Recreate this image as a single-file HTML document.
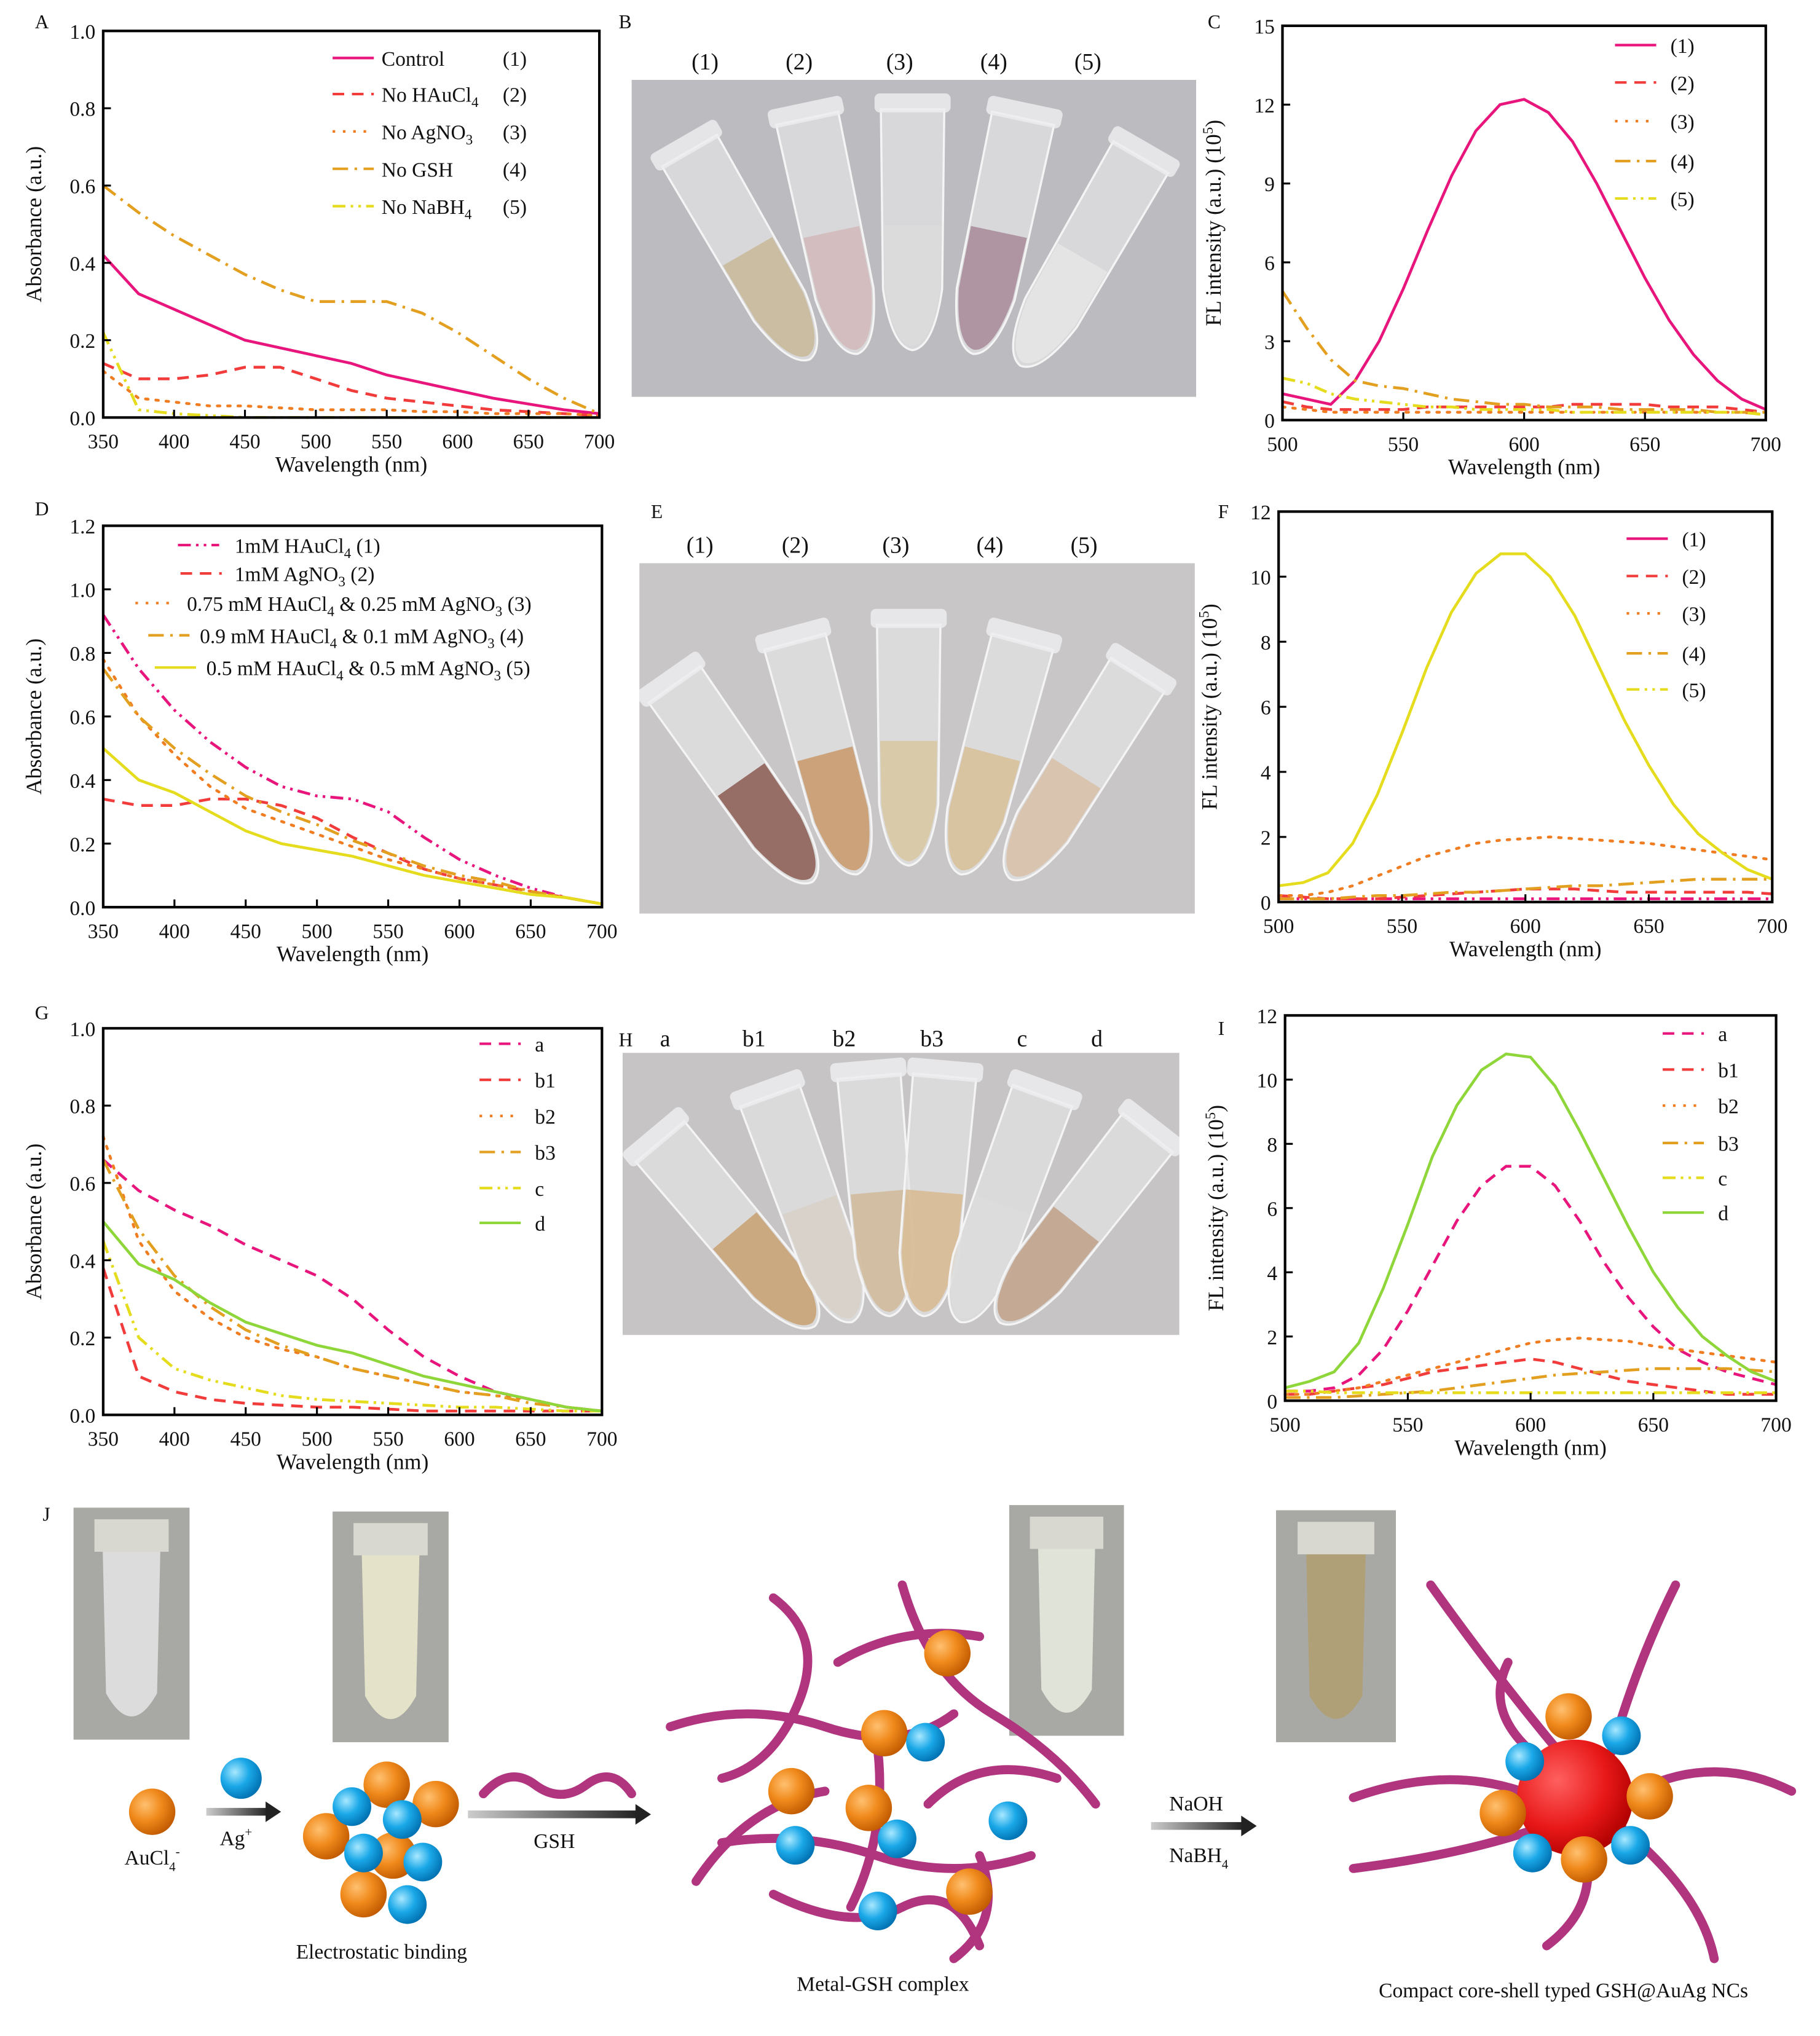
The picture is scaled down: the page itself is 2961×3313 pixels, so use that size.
<!DOCTYPE html>
<html><head><meta charset="utf-8">
<style>
html,body{margin:0;padding:0;background:#fff;}
svg{display:block;}
text{font-family:"Liberation Serif","DejaVu Serif",serif;fill:#111;}
</style></head>
<body>
<svg id="fig" xmlns="http://www.w3.org/2000/svg" width="2961" height="3313" viewBox="0 0 1412 1580">
<defs>
<radialGradient id="og" cx="0.35" cy="0.35" r="0.7"><stop offset="0" stop-color="#ffc070"/><stop offset="0.5" stop-color="#f08a1c"/><stop offset="1" stop-color="#c05a00"/></radialGradient>
<radialGradient id="bg" cx="0.35" cy="0.35" r="0.7"><stop offset="0" stop-color="#a8e8ff"/><stop offset="0.5" stop-color="#1aa8e8"/><stop offset="1" stop-color="#0070b0"/></radialGradient>
<radialGradient id="rg" cx="0.35" cy="0.35" r="0.7"><stop offset="0" stop-color="#ff6060"/><stop offset="0.6" stop-color="#e81818"/><stop offset="1" stop-color="#b00000"/></radialGradient>
<linearGradient id="arr" x1="0" x2="1"><stop offset="0" stop-color="#ccc"/><stop offset="1" stop-color="#222"/></linearGradient>
</defs>
</svg>
<script>
// ---------- data ----------
var wlAbs = [350,375,400,425,450,475,500,525,550,575,600,625,650,675,700];
var wlFL = [500,510,520,530,540,550,560,570,580,590,600,610,620,630,640,650,660,670,680,690,700];
var aControl = [0.42,0.32,0.28,0.24,0.20,0.18,0.16,0.14,0.11,0.09,0.07,0.05,0.035,0.02,0.01];
var aNoHAu = [0.14,0.10,0.10,0.11,0.13,0.13,0.10,0.07,0.05,0.04,0.03,0.02,0.015,0.01,0.005];
var aNoAg = [0.12,0.05,0.04,0.03,0.03,0.025,0.02,0.02,0.02,0.015,0.015,0.01,0.01,0.01,0.005];
var aNoGSH = [0.60,0.53,0.47,0.42,0.37,0.33,0.30,0.30,0.30,0.27,0.22,0.16,0.10,0.05,0.01];
var aNoNaBH = [0.22,0.02,0.01,0.005,0,0,0,0,0,0,0,0,0,0,0];
var c1 = [1.0,0.8,0.6,1.5,3.0,5.0,7.2,9.3,11.0,12.0,12.2,11.7,10.6,9.0,7.2,5.4,3.8,2.5,1.5,0.8,0.4];
var c2 = [0.7,0.5,0.4,0.4,0.4,0.4,0.5,0.5,0.5,0.5,0.5,0.5,0.6,0.6,0.6,0.6,0.5,0.5,0.5,0.4,0.3];
var c3 = [0.5,0.4,0.3,0.3,0.3,0.3,0.3,0.3,0.3,0.3,0.3,0.3,0.3,0.3,0.3,0.3,0.3,0.3,0.3,0.3,0.2];
var c4 = [4.9,3.5,2.3,1.5,1.3,1.2,1.0,0.8,0.7,0.6,0.6,0.5,0.5,0.5,0.4,0.4,0.4,0.4,0.3,0.3,0.3];
var c5 = [1.6,1.4,1.0,0.8,0.7,0.6,0.5,0.5,0.4,0.4,0.4,0.4,0.3,0.3,0.3,0.3,0.3,0.3,0.3,0.3,0.2];
var d1 = [0.92,0.75,0.62,0.52,0.44,0.38,0.35,0.34,0.30,0.22,0.15,0.10,0.06,0.03,0.01];
var d2 = [0.34,0.32,0.32,0.34,0.34,0.32,0.28,0.22,0.17,0.12,0.09,0.07,0.05,0.03,0.01];
var d3 = [0.78,0.60,0.48,0.38,0.31,0.27,0.23,0.19,0.15,0.12,0.09,0.07,0.05,0.03,0.01];
var d4 = [0.75,0.60,0.50,0.42,0.35,0.30,0.26,0.21,0.17,0.13,0.10,0.08,0.05,0.03,0.01];
var d5 = [0.50,0.40,0.36,0.30,0.24,0.20,0.18,0.16,0.13,0.10,0.08,0.06,0.04,0.03,0.01];
var f1 = [0.1,0.1,0.1,0.1,0.1,0.1,0.1,0.1,0.1,0.1,0.1,0.1,0.1,0.1,0.1,0.1,0.1,0.1,0.1,0.1,0.1];
var f2 = [0.2,0.15,0.1,0.1,0.1,0.15,0.2,0.25,0.3,0.35,0.4,0.4,0.4,0.35,0.3,0.3,0.3,0.3,0.3,0.3,0.25];
var f3 = [0.2,0.2,0.3,0.5,0.8,1.1,1.4,1.6,1.8,1.9,1.95,2.0,1.95,1.9,1.85,1.8,1.7,1.6,1.5,1.4,1.3];
var f4 = [0.1,0.1,0.1,0.15,0.2,0.2,0.25,0.3,0.3,0.35,0.4,0.45,0.5,0.5,0.55,0.6,0.65,0.7,0.7,0.7,0.7];
var f5 = [0.5,0.6,0.9,1.8,3.3,5.2,7.2,8.9,10.1,10.7,10.7,10.0,8.8,7.2,5.6,4.2,3.0,2.1,1.5,1.0,0.7];
var gA = [0.66,0.58,0.53,0.49,0.44,0.40,0.36,0.30,0.22,0.15,0.10,0.06,0.04,0.02,0.01];
var gB1 = [0.38,0.10,0.06,0.04,0.03,0.025,0.02,0.02,0.015,0.01,0.01,0.01,0.01,0.01,0.01];
var gB2 = [0.72,0.45,0.32,0.25,0.20,0.17,0.15,0.12,0.10,0.08,0.06,0.05,0.04,0.02,0.01];
var gB3 = [0.66,0.48,0.36,0.28,0.22,0.18,0.15,0.12,0.10,0.08,0.06,0.05,0.03,0.02,0.01];
var gC = [0.45,0.20,0.12,0.09,0.07,0.05,0.04,0.035,0.03,0.025,0.02,0.02,0.015,0.01,0.01];
var gD = [0.50,0.39,0.35,0.29,0.24,0.21,0.18,0.16,0.13,0.10,0.08,0.06,0.04,0.02,0.01];
var iA = [0.3,0.3,0.4,0.8,1.6,2.8,4.2,5.6,6.7,7.3,7.3,6.7,5.6,4.3,3.2,2.3,1.6,1.2,0.9,0.7,0.5];
var iB1 = [0.2,0.2,0.3,0.4,0.5,0.7,0.9,1.0,1.1,1.2,1.3,1.2,1.0,0.8,0.6,0.5,0.4,0.3,0.2,0.2,0.2];
var iB2 = [0.2,0.2,0.3,0.4,0.6,0.8,1.0,1.2,1.4,1.6,1.8,1.9,1.95,1.9,1.85,1.7,1.6,1.5,1.4,1.3,1.2];
var iB3 = [0.1,0.1,0.1,0.15,0.2,0.25,0.3,0.4,0.5,0.6,0.7,0.8,0.85,0.9,0.95,1.0,1.0,1.0,1.0,0.95,0.9];
var iC = [0.3,0.3,0.25,0.25,0.25,0.25,0.25,0.25,0.25,0.25,0.25,0.25,0.25,0.25,0.25,0.25,0.25,0.25,0.25,0.25,0.25];
var iD = [0.4,0.6,0.9,1.8,3.5,5.5,7.6,9.2,10.3,10.8,10.7,9.8,8.4,6.9,5.4,4.0,2.9,2.0,1.4,0.9,0.6];
var absXTicks = [350,400,450,500,550,600,650,700];
var flXTicks = [500,550,600,650,700];
var yTicks1 = [0,0.2,0.4,0.6,0.8,1.0];
var yTicks12 = [0,0.2,0.4,0.6,0.8,1.0,1.2];
var yTicksC = [0,3,6,9,12,15];
var yTicksFI = [0,2,4,6,8,10,12];

var NS="http://www.w3.org/2000/svg";
var svg=document.getElementById('fig');
function mk(tag,attrs,parent){var e=document.createElementNS(NS,tag);for(var k in attrs)e.setAttribute(k,attrs[k]);(parent||svg).appendChild(e);return e;}
function txt(x,y,s,size,parent,anchor,extra){var t=mk('text',{x:x,y:y,'font-size':size||16,'text-anchor':anchor||'start'},parent);t.innerHTML=s;if(extra)for(var k in extra)t.setAttribute(k,extra[k]);return t;}

var COL={mag:'#e8157c',red:'#f23c3c',ora:'#f07d22',dor:'#e3a020',yel:'#e4dc1c',grn:'#8fd63a'};
var STY={solid:'',dash:'9,6',dot:'2,6',dashdot:'12,5,2,5',dashdotdot:'10,4,2,4,2,4'};

function chart(name,box,xd,yd,xt,yt,ydec,series,ytitle){
  var g=mk('g',{});
  
  
  var sx=function(v){return box.x0+(v-xd[0])/(xd[1]-xd[0])*(box.x1-box.x0);};
  var sy=function(v){return box.y1-(v-yd[0])/(yd[1]-yd[0])*(box.y1-box.y0);};
  series.forEach(function(s){
    var pts=s.x.map(function(x,i){return sx(x).toFixed(1)+','+sy(s.y[i]).toFixed(1);}).join(' ');
    var p=mk('polyline',{points:pts,fill:'none',stroke:s.c,'stroke-width':2.2,'stroke-dasharray':STY[s.st],'stroke-linecap':s.st==='dot'?'round':'butt'},g);
    
    
  });
  var fr=mk('rect',{x:box.x0,y:box.y0,width:box.x1-box.x0,height:box.y1-box.y0,fill:'none',stroke:'#000','stroke-width':2},g);
  
  
  xt.forEach(function(v){
    var X=sx(v);
    mk('line',{x1:X,x2:X,y1:box.y1,y2:box.y1-6,stroke:'#000','stroke-width':1.5},g);
    var t=txt(X,box.y1+24,String(v),16,g,'middle');
    
    
  });
  yt.forEach(function(v){
    var Y=sy(v);
    mk('line',{x1:box.x0,x2:box.x0+6,y1:Y,y2:Y,stroke:'#000','stroke-width':1.5},g);
    var t=txt(box.x0-6,Y+6,v.toFixed(ydec),16,g,'end');
    
    
  });
  var xtl=txt((box.x0+box.x1)/2,box.y1+42,'Wavelength (nm)',17,g,'middle');
  
  
  var cy=(box.y0+box.y1)/2, tx=box.x0-48;
  var ytl=txt(tx,cy,ytitle,17,g,'middle',{transform:'rotate(-90 '+tx+' '+cy+')'});
  
  
}
function legend(entries){
  entries.forEach(function(e){
    var l=mk('line',{x1:e.lx,x2:e.lx+32,y1:e.y,y2:e.y,stroke:e.c,'stroke-width':2,'stroke-dasharray':STY[e.st]});
    
    
    var t=txt(e.tx,e.y+6,e.label,16);
    
    
  });
}
var ABS='Absorbance (a.u.)', FL='FL intensity (a.u.) (10<tspan baseline-shift="super" font-size="11">5</tspan>)';

chart('chart-a',{x0:80,x1:465,y0:24,y1:324},[350,700],[0,1],absXTicks,yTicks1,1,[
 {name:'series-control',x:wlAbs,y:aControl,c:COL.mag,st:'solid'},
 {name:'series-no-haucl4',x:wlAbs,y:aNoHAu,c:COL.red,st:'dash'},
 {name:'series-no-agno3',x:wlAbs,y:aNoAg,c:COL.ora,st:'dot'},
 {name:'series-no-gsh',x:wlAbs,y:aNoGSH,c:COL.dor,st:'dashdot'},
 {name:'series-no-nabh4',x:wlAbs,y:aNoNaBH,c:COL.yel,st:'dashdotdot'}],ABS);
legend([
 {lx:258,tx:296,y:45,c:COL.mag,st:'solid',label:'Control<tspan x="390">(1)</tspan>'},
 {lx:258,tx:296,y:73,c:COL.red,st:'dash',label:'No HAuCl<tspan font-size="11" dy="4">4</tspan><tspan x="390" dy="-4">(2)</tspan>'},
 {lx:258,tx:296,y:102,c:COL.ora,st:'dot',label:'No AgNO<tspan font-size="11" dy="4">3</tspan><tspan x="390" dy="-4">(3)</tspan>'},
 {lx:258,tx:296,y:131,c:COL.dor,st:'dashdot',label:'No GSH<tspan x="390">(4)</tspan>'},
 {lx:258,tx:296,y:160,c:COL.yel,st:'dashdotdot',label:'No NaBH<tspan font-size="11" dy="4">4</tspan><tspan x="390" dy="-4">(5)</tspan>'}]);
chart('chart-c',{x0:995,x1:1370,y0:20,y1:326},[500,700],[0,15],flXTicks,yTicksC,0,[
 {name:'series-1',x:wlFL,y:c1,c:COL.mag,st:'solid'},
 {name:'series-2',x:wlFL,y:c2,c:COL.red,st:'dash'},
 {name:'series-3',x:wlFL,y:c3,c:COL.ora,st:'dot'},
 {name:'series-4',x:wlFL,y:c4,c:COL.dor,st:'dashdot'},
 {name:'series-5',x:wlFL,y:c5,c:COL.yel,st:'dashdotdot'}],FL);
legend([{lx:1253,tx:1296,y:35,c:COL.mag,st:'solid',label:'(1)'},{lx:1253,tx:1296,y:64,c:COL.red,st:'dash',label:'(2)'},{lx:1253,tx:1296,y:94,c:COL.ora,st:'dot',label:'(3)'},{lx:1253,tx:1296,y:125,c:COL.dor,st:'dashdot',label:'(4)'},{lx:1253,tx:1296,y:154,c:COL.yel,st:'dashdotdot',label:'(5)'}]);
chart('chart-d',{x0:80,x1:467,y0:408,y1:704},[350,700],[0,1.2],absXTicks,yTicks12,1,[
 {name:'series-1mm-haucl4',x:wlAbs,y:d1,c:COL.mag,st:'dashdotdot'},
 {name:'series-1mm-agno3',x:wlAbs,y:d2,c:COL.red,st:'dash'},
 {name:'series-075-025',x:wlAbs,y:d3,c:COL.ora,st:'dot'},
 {name:'series-09-01',x:wlAbs,y:d4,c:COL.dor,st:'dashdot'},
 {name:'series-05-05',x:wlAbs,y:d5,c:COL.yel,st:'solid'}],ABS);
var s4='<tspan font-size="11" dy="4">4</tspan><tspan dy="-4"> </tspan>', s3='<tspan font-size="11" dy="4">3</tspan><tspan dy="-4"> </tspan>';
legend([
 {lx:138,tx:182,y:423,c:COL.mag,st:'dashdotdot',label:'1mM HAuCl'+s4+' (1)'},
 {lx:140,tx:182,y:445,c:COL.red,st:'dash',label:'1mM AgNO'+s3+' (2)'},
 {lx:105,tx:145,y:468,c:COL.ora,st:'dot',label:'0.75 mM HAuCl'+s4+'&amp; 0.25 mM AgNO'+s3+'(3)'},
 {lx:115,tx:155,y:493,c:COL.dor,st:'dashdot',label:'0.9 mM HAuCl'+s4+'&amp; 0.1 mM AgNO'+s3+'(4)'},
 {lx:120,tx:160,y:518,c:COL.yel,st:'solid',label:'0.5 mM HAuCl'+s4+'&amp; 0.5 mM AgNO'+s3+'(5)'}]);
chart('chart-f',{x0:992,x1:1375,y0:397,y1:700},[500,700],[0,12],flXTicks,yTicksFI,0,[
 {name:'series-1',x:wlFL,y:f1,c:COL.mag,st:'dashdotdot'},
 {name:'series-2',x:wlFL,y:f2,c:COL.red,st:'dash'},
 {name:'series-3',x:wlFL,y:f3,c:COL.ora,st:'dot'},
 {name:'series-4',x:wlFL,y:f4,c:COL.dor,st:'dashdot'},
 {name:'series-5',x:wlFL,y:f5,c:COL.yel,st:'solid'}],FL);
legend([{lx:1262,tx:1305,y:418,c:COL.mag,st:'solid',label:'(1)'},{lx:1262,tx:1305,y:447,c:COL.red,st:'dash',label:'(2)'},{lx:1262,tx:1305,y:476,c:COL.ora,st:'dot',label:'(3)'},{lx:1262,tx:1305,y:507,c:COL.dor,st:'dashdot',label:'(4)'},{lx:1262,tx:1305,y:535,c:COL.yel,st:'dashdotdot',label:'(5)'}]);
chart('chart-g',{x0:80,x1:467,y0:798,y1:1098},[350,700],[0,1],absXTicks,yTicks1,1,[
 {name:'series-a',x:wlAbs,y:gA,c:COL.mag,st:'dash'},
 {name:'series-b1',x:wlAbs,y:gB1,c:COL.red,st:'dash'},
 {name:'series-b2',x:wlAbs,y:gB2,c:COL.ora,st:'dot'},
 {name:'series-b3',x:wlAbs,y:gB3,c:COL.dor,st:'dashdot'},
 {name:'series-c',x:wlAbs,y:gC,c:COL.yel,st:'dashdotdot'},
 {name:'series-d',x:wlAbs,y:gD,c:COL.grn,st:'solid'}],ABS);
legend([{lx:372,tx:415,y:810,c:COL.mag,st:'dash',label:'a'},{lx:372,tx:415,y:838,c:COL.red,st:'dash',label:'b1'},{lx:372,tx:415,y:866,c:COL.ora,st:'dot',label:'b2'},{lx:372,tx:415,y:894,c:COL.dor,st:'dashdot',label:'b3'},{lx:372,tx:415,y:922,c:COL.yel,st:'dashdotdot',label:'c'},{lx:372,tx:415,y:949,c:COL.grn,st:'solid',label:'d'}]);
chart('chart-i',{x0:997,x1:1378,y0:788,y1:1087},[500,700],[0,12],flXTicks,yTicksFI,0,[
 {name:'series-a',x:wlFL,y:iA,c:COL.mag,st:'dash'},
 {name:'series-b1',x:wlFL,y:iB1,c:COL.red,st:'dash'},
 {name:'series-b2',x:wlFL,y:iB2,c:COL.ora,st:'dot'},
 {name:'series-b3',x:wlFL,y:iB3,c:COL.dor,st:'dashdot'},
 {name:'series-c',x:wlFL,y:iC,c:COL.yel,st:'dashdotdot'},
 {name:'series-d',x:wlFL,y:iD,c:COL.grn,st:'solid'}],FL);
legend([{lx:1290,tx:1333,y:802,c:COL.mag,st:'dash',label:'a'},{lx:1290,tx:1333,y:830,c:COL.red,st:'dash',label:'b1'},{lx:1290,tx:1333,y:858,c:COL.ora,st:'dot',label:'b2'},{lx:1290,tx:1333,y:887,c:COL.dor,st:'dashdot',label:'b3'},{lx:1290,tx:1333,y:914,c:COL.yel,st:'dashdotdot',label:'c'},{lx:1290,tx:1333,y:941,c:COL.grn,st:'solid',label:'d'}]);

[['A',27,22],['B',480,22],['C',937,22],['D',27,400],['E',505,402],['F',945,402],['G',27,791],['H',480,812],['I',945,803],['J',33,1180]].forEach(function(p){
  var t=txt(p[1],p[2],p[0],15);
  
  
});

var clipN=0;
function photo(name,x,y,w,h,bgc,labels,lx,ly,tubes){
  clipN++;
  var cp=mk('clipPath',{id:'pc'+clipN});
  mk('rect',{x:x,y:y,width:w,height:h},cp);
  var g=mk('g',{'clip-path':'url(#pc'+clipN+')'});
  
  
  mk('rect',{x:x,y:y,width:w,height:h,fill:bgc},g);
  tubes.forEach(function(t){
    var tg=mk('g',{transform:'translate('+t[0]+','+t[1]+') rotate('+t[2]+') scale(0.82)'},g);
    
    
    mk('path',{d:'M-30,-110 L30,-110 L28,60 Q20,115 0,118 Q-20,115 -28,60 Z',fill:'#e4e4e6','fill-opacity':0.7,stroke:'#f4f4f4','stroke-width':2},tg);
    mk('path',{d:'M-27,0 L27,0 L26,60 Q18,112 0,114 Q-18,112 -26,60 Z',fill:t[3],'fill-opacity':0.85},tg);
    mk('rect',{x:-36,y:-125,width:72,height:18,rx:5,fill:'#ececee','fill-opacity':0.85},tg);
  });
  labels.forEach(function(s,i){
    var t=txt(lx[i],ly,s,18,null,'middle');
    
    
  });
}
photo('photo-b',490,62,438,246,'#bcbcc0',['(1)','(2)','(3)','(4)','(5)'],[547,620,698,771,844],54,
 [[580,195,-30,'#c8b898'],[645,180,-12,'#d4b8b8'],[708,175,0,'#dcdcdc'],[775,180,12,'#a88898'],[840,200,30,'#e6e6e6']]);
photo('photo-e',496,437,431,272,'#c8c6c6',['(1)','(2)','(3)','(4)','(5)'],[543,617,695,768,841],429,
 [[575,605,-35,'#8a5a50'],[640,585,-15,'#c89868'],[705,575,0,'#d8c8a0'],[770,585,15,'#d8c098'],[835,600,32,'#d8c0a8']]);
photo('photo-h',483,817,432,219,'#c6c4c4',['a','b1','b2','b3','c','d'],[516,585,655,723,793,851],812,
 [[570,955,-40,'#c8a070'],[628,935,-20,'#d8d0c8'],[682,925,-5,'#d0b898'],[725,925,5,'#d8b890'],[778,935,20,'#dcdcdc'],[835,950,38,'#c0a088']]);

var J=mk('g',{});


function pic(x,y,w,h,fillc,name){var g=mk('g',{},J);
 mk('rect',{x:x,y:y,width:w,height:h,fill:'#a8a8a4'},g);
 mk('path',{d:'M'+(x+w*0.25)+','+(y+h*0.15)+' L'+(x+w*0.75)+','+(y+h*0.15)+' L'+(x+w*0.72)+','+(y+h*0.8)+' Q'+(x+w*0.5)+','+(y+h*1.0)+' '+(x+w*0.28)+','+(y+h*0.8)+' Z',fill:fillc},g);
 mk('rect',{x:x+w*0.18,y:y+h*0.05,width:w*0.64,height:h*0.14,fill:'#d8d8d0'},g);}
pic(57,1170,90,180,'#dcdcdc','photo-tube-1');
pic(258,1173,90,179,'#e4e2c8','photo-tube-2');
pic(783,1168,89,179,'#e0e4d8','photo-tube-3');
pic(990,1172,93,180,'#b0a078','photo-tube-4');
function ball(x,y,r,f){var c=mk('circle',{cx:x,cy:y,r:r,fill:'url(#'+f+')'},J);}
function rib(d){var p=mk('path',{d:d,fill:'none',stroke:'#b0357e','stroke-width':7,'stroke-linecap':'round'},J);}
function arrow(x1,x2,y){var g=mk('g',{},J);
 mk('rect',{x:x1,y:y-3,width:x2-x1-10,height:6,fill:'url(#arr)'},g);mk('path',{d:'M'+(x2-12)+','+(y-8)+' L'+x2+','+y+' L'+(x2-12)+','+(y+8)+' Z',fill:'#222'},g);}
ball(118,1406,18,'og');ball(187,1380,16,'bg');
arrow(160,218,1406);arrow(363,505,1408);arrow(893,975,1417);
[[300,1385,'og'],[338,1400,'og'],[253,1425,'og'],[305,1440,'og'],[282,1470,'og']].forEach(function(b){ball(b[0],b[1],18,b[2]);});
[[273,1402,'bg'],[312,1412,'bg'],[282,1438,'bg'],[328,1445,'bg'],[316,1478,'bg']].forEach(function(b){ball(b[0],b[1],15,b[2]);});
rib('M375,1392 Q395,1370 415,1385 Q435,1400 455,1385 Q475,1370 490,1392');
['M600,1240 Q640,1270 620,1320 Q600,1370 560,1380','M520,1340 Q580,1320 640,1340 Q700,1360 740,1330','M700,1230 Q720,1300 770,1330 Q820,1360 850,1400','M560,1430 Q620,1420 680,1440 Q740,1460 800,1440','M600,1470 Q660,1500 700,1480 Q740,1460 760,1510','M650,1290 Q700,1260 760,1270','M540,1460 Q580,1400 640,1390','M720,1400 Q760,1360 820,1380','M680,1350 Q690,1420 660,1480','M760,1440 Q780,1490 740,1520']
 .forEach(rib);
[[735,1283],[686,1345],[614,1390],[674,1403],[752,1468]].forEach(function(b){ball(b[0],b[1],18,'og');});
[[718,1352],[617,1432],[696,1427],[782,1413],[681,1483]].forEach(function(b){ball(b[0],b[1],15,'bg');});
['M1210,1360 Q1160,1300 1110,1230','M1250,1360 Q1270,1290 1300,1230','M1270,1390 Q1330,1360 1390,1390','M1260,1420 Q1320,1470 1330,1520','M1230,1435 Q1240,1480 1200,1510','M1190,1420 Q1130,1440 1050,1450','M1180,1390 Q1120,1370 1050,1395','M1195,1365 Q1150,1330 1170,1290']
 .forEach(rib);
var core=mk('circle',{cx:1222,cy:1395,r:45,fill:'url(#rg)'},J);


[[1217,1332],[1280,1394],[1166,1407],[1229,1443]].forEach(function(b){ball(b[0],b[1],18,'og');});
[[1258,1347],[1183,1367],[1265,1432],[1189,1438]].forEach(function(b){ball(b[0],b[1],15,'bg');});
[[118,1447,'AuCl<tspan font-size="10" dy="5">4</tspan><tspan font-size="10" dy="-12">-</tspan>'],[183,1432,'Ag<tspan font-size="10" dy="-7">+</tspan>'],[430,1434,'GSH'],[296,1520,'Electrostatic binding'],[685,1545,'Metal-GSH complex'],[928,1405,'NaOH'],[930,1445,'NaBH<tspan font-size="10" dy="5">4</tspan>'],[1213,1550,'Compact core-shell typed GSH@AuAg NCs']].forEach(function(t){
  var e=txt(t[0],t[1],t[2],16,J,'middle');
  
  
});
</script>
</body></html>
